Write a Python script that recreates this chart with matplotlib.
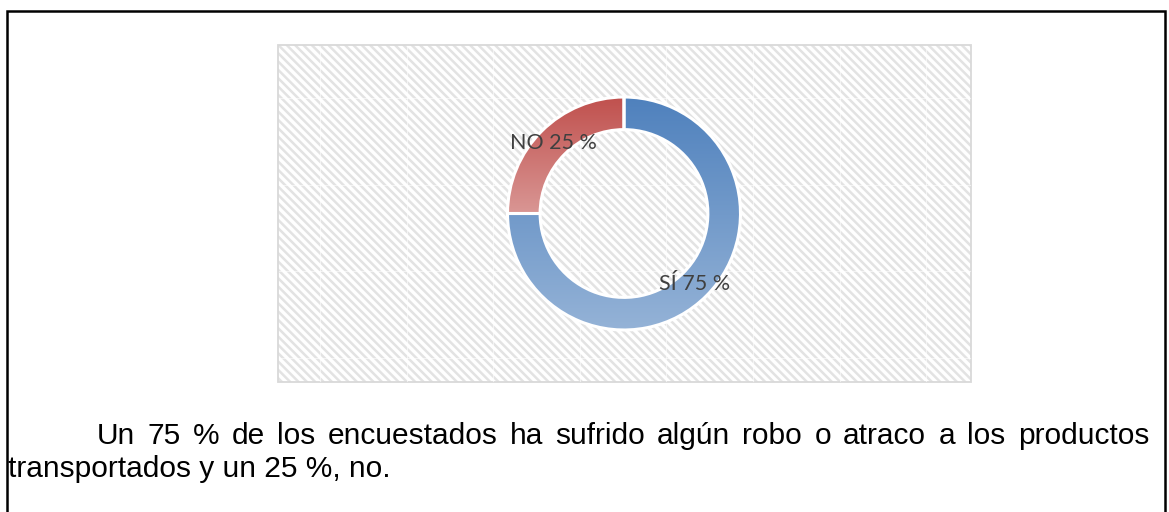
import matplotlib.pyplot as plt
import numpy as np
from matplotlib.patches import Rectangle
from matplotlib.colors import LinearSegmentedColormap

categorias = ['SÍ', 'NO']
porcentajes = [75, 25]
color_arriba = ['#4F81BD', '#C0504D']
color_abajo = ['#95B3D7', '#D99694']

linea1 = 'Un 75 % de los encuestados ha sufrido algún robo o atraco a los productos'
linea2 = 'transportados y un 25 %, no.'

W, H = 1169, 512
plt.rcParams['hatch.linewidth'] = 1.8
fig = plt.figure(figsize=(W / 100, H / 100), dpi=100)

# capa de fondo en pixeles (y hacia abajo)
fondo = fig.add_axes([0, 0, 1, 1])
fondo.set_xlim(0, W)
fondo.set_ylim(H, 0)
fondo.axis('off')

# marco de la pagina
fondo.plot([7, 7, 1165, 1165], [H + 5, 11, 11, H + 5], color='black', lw=1.8,
           solid_joinstyle='miter', clip_on=False)

# area del grafico con trama diagonal
x0, y0, x1, y1 = 278, 45, 971, 382
fondo.add_patch(Rectangle((x0, y0), x1 - x0, y1 - y0, facecolor='white',
                          edgecolor='#E3E3E3', hatch='\\\\\\\\', lw=0))
for gx in np.arange(320, x1, 86.6):
    fondo.plot([gx, gx], [y0 + 1, y1 - 1], color='white', lw=0.8, alpha=0.6)
for gy in np.arange(98, y1, 86.6):
    fondo.plot([x0 + 1, x1 - 1], [gy, gy], color='white', lw=0.8, alpha=0.6)
fondo.add_patch(Rectangle((x0, y0), x1 - x0, y1 - y0, fill=False,
                          edgecolor='#D9D9D9', lw=1.3))

# anillo
cx, cy, R = 624, 213.5, 116.5
ax = fig.add_axes([(cx - R) / W, (H - cy - R) / H, 2 * R / W, 2 * R / H])
ancho = 0.28
wedges, _ = ax.pie(porcentajes, startangle=90, counterclock=False, radius=1,
                   wedgeprops=dict(width=ancho, edgecolor='white', linewidth=2.2))

grad = np.linspace(0, 1, 256).reshape(-1, 1)
for w, cat, val, c_top, c_bot in zip(wedges, categorias, porcentajes, color_arriba, color_abajo):
    v = w.get_path().vertices
    cmap = LinearSegmentedColormap.from_list('g', [c_top, c_bot])
    img = ax.imshow(grad, cmap=cmap, aspect='auto', origin='upper', zorder=1,
                    extent=(v[:, 0].min(), v[:, 0].max(), v[:, 1].min(), v[:, 1].max()))
    img.set_clip_path(w)
    w.set_facecolor('none')
    w.set_zorder(2)
    w.set_clip_on(False)
    ang = np.deg2rad((w.theta1 + w.theta2) / 2)
    r = 1 - ancho / 2
    ax.text(r * np.cos(ang), r * np.sin(ang), f'{cat} {val} %', ha='center', va='center',
            fontsize=15.5, color='#404040', family='Lato', zorder=3)
ax.set_xlim(-1, 1)
ax.set_ylim(-1, 1)
ax.axis('off')

# parrafo justificado
fs = 21.5
renderer = fig.canvas.get_renderer()
palabras = linea1.split(' ')
textos = [fondo.text(0, 444, p, fontsize=fs, family='Liberation Sans', va='baseline')
          for p in palabras]
anchos = [t.get_window_extent(renderer).width for t in textos]
inicio, fin = 97, 1149
hueco = (fin - inicio - sum(anchos)) / (len(palabras) - 1)
x = inicio
for t, a in zip(textos, anchos):
    t.set_x(x)
    x += a + hueco
fondo.text(8, 477, linea2, fontsize=fs, family='Liberation Sans', va='baseline')

fig.savefig('out.png', dpi=100)
